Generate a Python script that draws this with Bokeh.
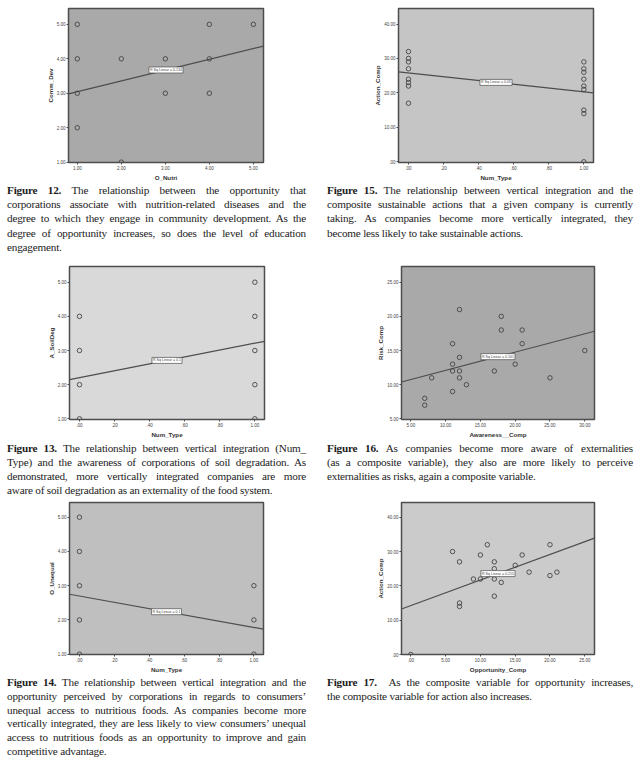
from bokeh.plotting import figure
from bokeh.models import Range1d, FixedTicker, Label, Div, Spacer
from bokeh.layouts import column, row
from bokeh.embed import file_html
from bokeh.resources import INLINE

# ---------------- data ----------------
# Figure 12: O_Nutri vs Comm_Dev
o_nutri = [1, 1, 1, 1, 2, 2, 3, 3, 4, 4, 4, 5]
comm_dev = [5, 4, 3, 2, 4, 1, 4, 3, 5, 4, 3, 5]
fit12 = [2.98, 4.37]
r2_12 = "R Sq Linear = 0.134"
ticks_1_5 = [1, 2, 3, 4, 5]
labels_1_5 = ["1.00", "2.00", "3.00", "4.00", "5.00"]

# Figure 15: Num_Type vs Action_Comp
num_type15 = [0, 0, 0, 0, 0, 0, 0, 0, 1, 1, 1, 1, 1, 1, 1, 1, 1]
action15 = [32, 30, 29, 27, 24, 23, 22, 17, 29, 27, 26, 24, 22, 21, 15, 14, 0]
fit15 = [26.1, 20.0]
r2_15 = "R Sq Linear = 0.05"
ticks_type = [0, 0.2, 0.4, 0.6, 0.8, 1.0]
labels_type = [".00", ".20", ".40", ".60", ".80", "1.00"]
ticks_0_40 = [0, 10, 20, 30, 40]
labels_0_40 = [".00", "10.00", "20.00", "30.00", "40.00"]

# Figure 13: Num_Type vs A_SoilDeg
num_type13 = [0, 0, 0, 0, 1, 1, 1, 1, 1]
soil13 = [4, 3, 2, 1, 5, 4, 3, 2, 1]
fit13 = [2.15, 3.27]
r2_13 = "R Sq Linear = 0.1"

# Figure 16: Awareness__Comp vs Risk_Comp
aware16 = [12, 18, 18, 21, 21, 11, 12, 11, 20, 11, 12, 17, 30, 8, 12, 25, 13, 11, 7, 7]
risk16 = [21, 20, 18, 18, 16, 16, 14, 13, 13, 12, 12, 12, 15, 11, 11, 11, 10, 9, 8, 7]
fit16 = [10.39, 17.82]
r2_16 = "R Sq Linear = 0.161"
ticks_5_30 = [5, 10, 15, 20, 25, 30]
labels_5_30 = ["5.00", "10.00", "15.00", "20.00", "25.00", "30.00"]
ticks_5_25 = [5, 10, 15, 20, 25]
labels_5_25 = ["5.00", "10.00", "15.00", "20.00", "25.00"]

# Figure 14: Num_Type vs O_Unequal
num_type14 = [0, 0, 0, 0, 0, 1, 1, 1]
unequal14 = [5, 4, 3, 2, 1, 3, 2, 1]
fit14 = [2.75, 1.73]
r2_14 = "R Sq Linear = 0.1"

# Figure 17: Opportunity_Comp vs Action_Comp
opp17 = [0, 6, 7, 7, 7, 9, 10, 10, 11, 12, 12, 12, 12, 13, 15, 16, 17, 20, 20, 21]
action17 = [0, 30, 27, 15, 14, 22, 29, 22, 32, 27, 25, 22, 17, 21, 26, 29, 24, 32, 23, 24]
fit17 = [13.26, 33.9]
r2_17 = "R Sq Linear = 0.215"
ticks_0_25 = [0, 5, 10, 15, 20, 25]
labels_0_25 = [".00", "5.00", "10.00", "15.00", "20.00", "25.00"]

cap12 = ["<b>Figure 12.</b> The relationship between the opportunity that",
         "corporations associate with nutrition-related diseases and the",
         "degree to which they engage in community development. As the",
         "degree of opportunity increases, so does the level of education",
         "engagement."]
cap15 = ["<b>Figure 15.</b> The relationship between vertical integration and the",
         "composite sustainable actions that a given company is currently",
         "taking. As companies become more vertically integrated, they",
         "become less likely to take sustainable actions."]
cap13 = ["<b>Figure 13.</b> The relationship between vertical integration (Num_",
         "Type) and the awareness of corporations of soil degradation. As",
         "demonstrated, more vertically integrated companies are more",
         "aware of soil degradation as an externality of the food system."]
cap16 = ["<b>Figure 16.</b> As companies become more aware of externalities",
         "(as a composite variable), they also are more likely to perceive",
         "externalities as risks, again a composite variable."]
cap14 = ["<b>Figure 14.</b> The relationship between vertical integration and the",
         "opportunity perceived by corporations in regards to consumers\u2019",
         "unequal access to nutritious foods. As companies become more",
         "vertically integrated, they are less likely to view consumers\u2019 unequal",
         "access to nutritious foods as an opportunity to improve and gain",
         "competitive advantage."]
cap17 = ["<b>Figure 17.</b>&nbsp; As the composite variable for opportunity increases,",
         "the composite variable for action also increases."]

DARK = "#4d4d4d"


def style_axis(ax):
    ax.major_label_text_font_size = "4.5px"
    ax.major_label_text_font = "Liberation Sans"
    ax.major_label_text_color = "#444444"
    ax.axis_label_text_font_size = "6.2px"
    ax.axis_label_text_font_style = "bold"
    ax.axis_label_text_font = "Liberation Sans"
    ax.axis_label_text_color = "#333333"
    ax.axis_label_standoff = 1
    ax.major_label_standoff = 1
    ax.major_tick_in = 0
    ax.major_tick_out = 2
    ax.major_tick_line_color = DARK
    ax.minor_tick_line_color = None
    ax.axis_line_color = DARK


def make_fig(xs, ys, fit, xr, yr, xt, xl, yt, yl, xname, yname, r2, bg,
             fw, fh, bl, br, bt, bb):
    p = figure(frame_width=fw, frame_height=fh, output_backend="svg",
               toolbar_location=None, x_range=Range1d(*xr), y_range=Range1d(*yr),
               min_border_left=bl, min_border_right=br,
               min_border_top=bt, min_border_bottom=bb)
    p.background_fill_color = bg
    p.border_fill_color = "white"
    p.outline_line_color = DARK
    p.outline_line_width = 1.5
    p.grid.visible = False
    p.xaxis.ticker = FixedTicker(ticks=xt)
    p.xaxis.major_label_overrides = {t: s for t, s in zip(xt, xl)}
    p.yaxis.ticker = FixedTicker(ticks=yt)
    p.yaxis.major_label_overrides = {t: s for t, s in zip(yt, yl)}
    p.xaxis.axis_label = xname
    p.yaxis.axis_label = yname
    style_axis(p.xaxis[0])
    style_axis(p.yaxis[0])
    p.yaxis.axis_label_standoff = 0
    p.line(list(xr), fit, line_color=DARK, line_width=1.2)
    p.scatter(xs, ys, marker="circle", size=4.5, fill_color=None,
              line_color="#444444", line_width=0.9)
    xm = (xr[0] + xr[1]) / 2
    ym = (fit[0] + fit[1]) / 2
    p.add_layout(Label(x=xm, y=ym, text=r2, text_font_size="3.6px",
                       text_font="Liberation Sans", text_align="center",
                       text_baseline="middle", background_fill_color="white",
                       border_line_color=DARK, border_line_width=0.7, padding=1))
    return p


def caption(lines, width, height, lh):
    html = ""
    for i, ln in enumerate(lines):
        last = i == len(lines) - 1
        al = "left" if last else "justify"
        html += ('<div style="display:block;width:%dpx;text-align:justify;'
                 'text-align-last:%s;">%s</div>' % (width, al, ln))
    return Div(text=html, width=width, height=height, margin=0,
               styles={"font-family": "'Liberation Serif', serif",
                       "font-size": "11.2px", "letter-spacing": "-0.2px",
                       "line-height": "%spx" % lh, "color": "#1c1c1c"})


TYPE_R = (-0.057, 1.055)

f12 = make_fig(o_nutri, comm_dev, fit12, (0.8, 5.23), (0.99, 5.46), ticks_1_5, labels_1_5,
               ticks_1_5, labels_1_5, "O_Nutri", "Comm_Dev", r2_12, "#a9a9a9",
               195, 154, 68, 61, 8, 21)
f15 = make_fig(num_type15, action15, fit15, TYPE_R, (-0.2, 44.5), ticks_type, labels_type,
               ticks_0_40, labels_0_40, "Num_Type", "Action_Comp", r2_15, "#c5c5c5",
               195, 154, 74, 45, 8, 21)
f13 = make_fig(num_type13, soil13, fit13, TYPE_R, (0.98, 5.46), ticks_type, labels_type,
               ticks_1_5, labels_1_5, "Num_Type", "A_SoilDeg", r2_13, "#d9d9d9",
               195, 153, 69, 60, 8, 22)
f16 = make_fig(aware16, risk16, fit16, (3.66, 31.4), (4.9, 27.3), ticks_5_30, labels_5_30,
               ticks_5_25, labels_5_25, "Awareness__Comp", "Risk_Comp", r2_16, "#a9a9a9",
               193, 153, 77, 44, 8, 22)
f14 = make_fig(num_type14, unequal14, fit14, TYPE_R, (0.99, 5.43), ticks_type, labels_type,
               ticks_1_5, labels_1_5, "Num_Type", "O_Unequal", r2_14, "#bfbfbf",
               194, 152, 69, 61, 5, 22)
f17 = make_fig(opp17, action17, fit17, (-1.34, 26.4), (0, 44.3), ticks_0_25, labels_0_25,
               ticks_0_40, labels_0_40, "Opportunity_Comp", "Action_Comp", r2_17, "#cbcbcb",
               193, 152, 77, 44, 5, 22)


def cap_row(left, right, h, lh):
    return row(Spacer(width=7, height=h, margin=0), caption(left, 299, h, lh),
               Spacer(width=21, height=h, margin=0), caption(right, 306, h, lh),
               spacing=0)


capA = cap_row(cap12, cap15, 75, 14.2)
capB = cap_row(cap13, cap16, 56, 14)
capC = cap_row(cap14, cap17, 83, 13.8)

page = column(row(f12, f15, spacing=0), capA,
              row(f13, f16, spacing=0), capB,
              row(f14, f17, spacing=0), capC, spacing=0)

open("out.html", "w").write(file_html(page, INLINE))
